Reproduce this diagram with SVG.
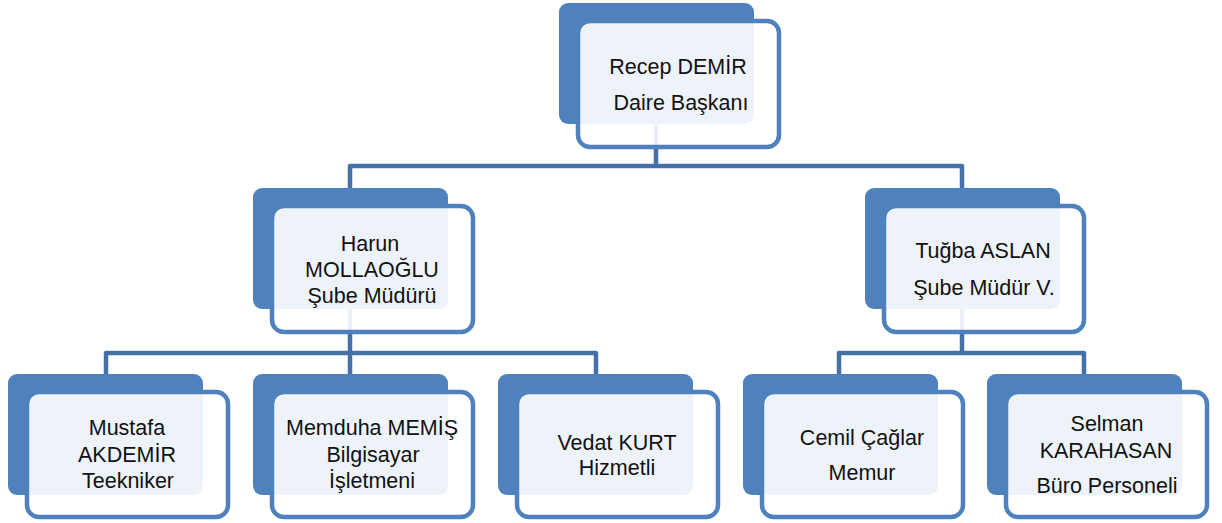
<svg xmlns="http://www.w3.org/2000/svg" width="1222" height="523" viewBox="0 0 1222 523">
<style>
.back{fill:#4F81BD;}
.front{fill:#FFFFFF;fill-opacity:0.9;stroke:#4F81BD;stroke-width:4.5;}
.conn{fill:none;stroke:#4571A8;stroke-width:4.5;stroke-linejoin:round;}
text{font-family:"Liberation Sans",Arial,sans-serif;font-size:21.5px;fill:#111111;text-anchor:middle;}
</style>
<rect width="1222" height="523" fill="#FFFFFF"/>
<g id="connectors">
<path class="conn" d="M350 195 V166 H962 V195 M656 100 V166"/>
<path class="conn" d="M106 380 V353 H596 V380 M350 300 V380"/>
<path class="conn" d="M839 380 V353 H1084 V380 M962 300 V353"/>
</g>
<g id="recep">
<rect class="back" x="559" y="3" width="195" height="121" rx="9"/>
<rect class="front" x="578" y="21" width="201" height="126" rx="12"/>
<text x="678" y="74">Recep DEMİR</text>
<text x="681" y="110">Daire Başkanı</text>
</g>
<g id="harun">
<rect class="back" x="253" y="188" width="195" height="121" rx="9"/>
<rect class="front" x="272" y="206" width="201" height="126" rx="12"/>
<text x="370" y="251">Harun</text>
<text x="372" y="277">MOLLAOĞLU</text>
<text x="372" y="303">Şube Müdürü</text>
</g>
<g id="tugba">
<rect class="back" x="865" y="188" width="195" height="121" rx="9"/>
<rect class="front" x="884" y="206" width="200" height="126" rx="12"/>
<text x="983" y="258">Tuğba ASLAN</text>
<text x="984" y="295">Şube Müdür V.</text>
</g>
<g id="mustafa">
<rect class="back" x="8" y="374" width="195" height="121" rx="9"/>
<rect class="front" x="27" y="392" width="201" height="125" rx="12"/>
<text x="127" y="435">Mustafa</text>
<text x="127" y="462">AKDEMİR</text>
<text x="128" y="488">Teekniker</text>
</g>
<g id="memduha">
<rect class="back" x="253" y="374" width="195" height="121" rx="9"/>
<rect class="front" x="272" y="392" width="201" height="125" rx="12"/>
<text x="372" y="435">Memduha MEMİŞ</text>
<text x="373" y="462">Bilgisayar</text>
<text x="372" y="488">İşletmeni</text>
</g>
<g id="vedat">
<rect class="back" x="498" y="374" width="195" height="121" rx="9"/>
<rect class="front" x="517" y="392" width="201" height="125" rx="12"/>
<text x="617" y="450">Vedat KURT</text>
<text x="617" y="475">Hizmetli</text>
</g>
<g id="cemil">
<rect class="back" x="743" y="374" width="195" height="121" rx="9"/>
<rect class="front" x="762" y="392" width="201" height="125" rx="12"/>
<text x="862" y="445">Cemil Çağlar</text>
<text x="862" y="480">Memur</text>
</g>
<g id="selman">
<rect class="back" x="987" y="374" width="195" height="121" rx="9"/>
<rect class="front" x="1006" y="392" width="201" height="125" rx="12"/>
<text x="1107" y="431">Selman</text>
<text x="1106" y="458">KARAHASAN</text>
<text x="1107" y="493">Büro Personeli</text>
</g>
</svg>
